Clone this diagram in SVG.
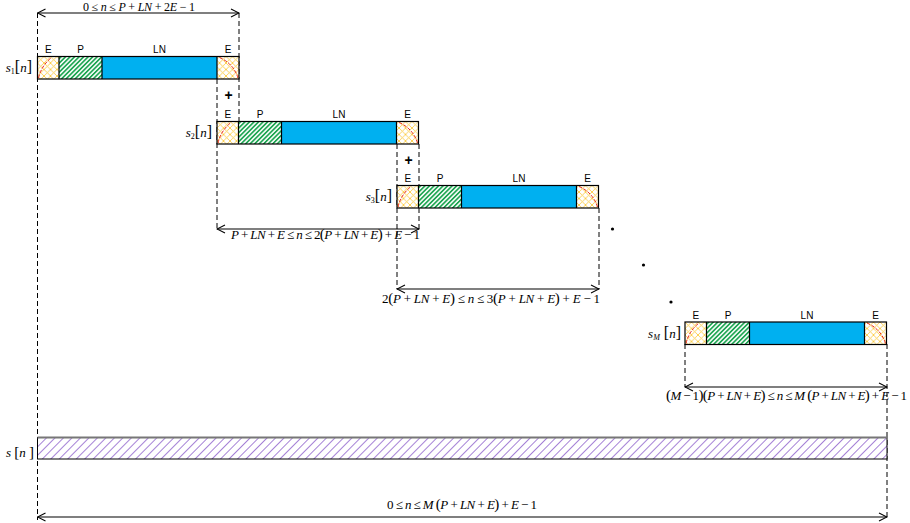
<svg xmlns="http://www.w3.org/2000/svg" width="910" height="523" viewBox="0 0 910 523">
<style>
.math{font-family:"Liberation Serif","Times New Roman",serif;font-size:13px;fill:#000}
.i{font-style:italic}
.pr{font-size:15px}
.lab{font-family:"Liberation Sans",Arial,sans-serif;font-size:10px;fill:#000;text-anchor:middle}
.dash{stroke:#000;stroke-width:1;stroke-dasharray:5,3;fill:none}
.arr{stroke:#000;stroke-width:1.1;fill:none;marker-start:url(#ah);marker-end:url(#ah)}
.box{stroke:#000;stroke-width:1.2}
.red{stroke:#e8251b;stroke-width:1;stroke-dasharray:3.5,1.5;fill:none}
.plus{font-family:"Liberation Sans",Arial,sans-serif;font-size:14px;font-weight:bold;text-anchor:middle}
</style>
<defs>
<pattern id="eh" patternUnits="userSpaceOnUse" width="6.5" height="6.5">
<rect width="6.5" height="6.5" fill="#fff"/>
<path d="M0,0 L6.5,6.5 M6.5,0 L0,6.5" stroke="#fcc93a" stroke-width="0.85"/>
</pattern>
<pattern id="ph" patternUnits="userSpaceOnUse" width="3.2" height="3.2" patternTransform="rotate(45)">
<rect width="3.2" height="3.2" fill="#fff"/>
<rect width="1.7" height="3.2" fill="#1fa653"/>
</pattern>
<pattern id="sh" patternUnits="userSpaceOnUse" width="6" height="6" patternTransform="rotate(45)">
<rect width="6" height="6" fill="#fff"/>
<rect width="0.8" height="6" fill="#8f63cc"/>
</pattern>
<marker id="ah" markerWidth="10" markerHeight="10" refX="9" refY="5" orient="auto-start-reverse" markerUnits="userSpaceOnUse">
<path d="M1,1 L9,5 L1,9" fill="none" stroke="#000" stroke-width="1.1"/>
</marker>
<g id="bar">
<rect x="0" y="0" width="21.5" height="22.5" fill="url(#eh)"/>
<rect x="21.5" y="0" width="43" height="22.5" fill="url(#ph)"/>
<rect x="64.5" y="0" width="115" height="22.5" fill="#00b0f0"/>
<rect x="179.5" y="0" width="22" height="22.5" fill="url(#eh)"/>
<path class="red" d="M1,21.5 Q4,9 14,1"/>
<path class="red" d="M182,1 Q196,7 200.5,21.5"/>
<rect class="box" x="0" y="0" width="201.5" height="22.5" fill="none"/>
<path class="box" d="M21.5,0 V22.5 M64.5,0 V22.5 M179.5,0 V22.5"/>
<text class="lab" x="10.75" y="-3.5">E</text>
<text class="lab" x="43" y="-3.5">P</text>
<text class="lab" x="122" y="-3.5">LN</text>
<text class="lab" x="190.5" y="-3.5">E</text>
</g>
</defs>

<g id="connectors">
<path class="dash" d="M37.5,13 V520"/>
<path class="dash" d="M239,13 V122"/>
<path class="dash" d="M217,79 V229"/>
<path class="dash" d="M397,144 V289"/>
<path class="dash" d="M419,144 V229"/>
<path class="dash" d="M599,208 V289"/>
<path class="dash" d="M685,344 V387"/>
<path class="dash" d="M887,344 V520"/>
<line class="arr" x1="37.5" y1="13" x2="239" y2="13"/>
<line class="arr" x1="217" y1="229" x2="419" y2="229"/>
<line class="arr" x1="397" y1="289" x2="599" y2="289"/>
<line class="arr" x1="685" y1="387" x2="887" y2="387"/>
<line class="arr" x1="37.5" y1="517" x2="887" y2="517"/>
</g>

<g id="range1">
<text class="math" font-size="12" x="83" y="10.5" textLength="112" lengthAdjust="spacing" style="font-size:12px">0 ≤ <tspan class="i">n</tspan> ≤ <tspan class="i">P</tspan> + <tspan class="i">LN</tspan> + 2<tspan class="i">E</tspan> − 1</text>
</g>
<g id="range2">
<text class="math" x="231" y="239" textLength="189" lengthAdjust="spacing"><tspan class="i">P</tspan> + <tspan class="i">LN</tspan> + <tspan class="i">E</tspan> ≤ <tspan class="i">n</tspan> ≤ 2<tspan class="pr">(</tspan><tspan class="i">P</tspan> + <tspan class="i">LN</tspan> + <tspan class="i">E</tspan><tspan class="pr">)</tspan> + <tspan class="i">E</tspan> − 1</text>
</g>
<g id="range3">
<text class="math" x="382" y="303" textLength="218" lengthAdjust="spacing">2<tspan class="pr">(</tspan><tspan class="i">P</tspan> + <tspan class="i">LN</tspan> + <tspan class="i">E</tspan><tspan class="pr">)</tspan> ≤ <tspan class="i">n</tspan> ≤ 3<tspan class="pr">(</tspan><tspan class="i">P</tspan> + <tspan class="i">LN</tspan> + <tspan class="i">E</tspan><tspan class="pr">)</tspan> + <tspan class="i">E</tspan> − 1</text>
</g>
<g id="rangeM">
<text class="math" x="666" y="400" textLength="241" lengthAdjust="spacing"><tspan class="pr">(</tspan><tspan class="i">M</tspan> − 1<tspan class="pr">)(</tspan><tspan class="i">P</tspan> + <tspan class="i">LN</tspan> + <tspan class="i">E</tspan><tspan class="pr">)</tspan> ≤ <tspan class="i">n</tspan> ≤ <tspan class="i">M</tspan> <tspan class="pr">(</tspan><tspan class="i">P</tspan> + <tspan class="i">LN</tspan> + <tspan class="i">E</tspan><tspan class="pr">)</tspan> + <tspan class="i">E</tspan> − 1</text>
</g>
<g id="rangeAll">
<text class="math" x="387" y="509" textLength="150" lengthAdjust="spacing">0 ≤ <tspan class="i">n</tspan> ≤ <tspan class="i">M</tspan> <tspan class="pr">(</tspan><tspan class="i">P</tspan> + <tspan class="i">LN</tspan> + <tspan class="i">E</tspan><tspan class="pr">)</tspan> + <tspan class="i">E</tspan> − 1</text>
</g>

<g id="s1">
<use href="#bar" x="37.5" y="56.5"/>
<text class="math" x="32" y="72" text-anchor="end"><tspan class="i">s</tspan><tspan font-size="8" dy="2">1</tspan><tspan font-size="16" dy="-2">[</tspan><tspan class="i">n</tspan><tspan font-size="16">]</tspan></text>
</g>
<g id="s2">
<use href="#bar" x="217" y="121.5"/>
<text class="math" x="212" y="137" text-anchor="end"><tspan class="i">s</tspan><tspan font-size="8" dy="2">2</tspan><tspan font-size="16" dy="-2">[</tspan><tspan class="i">n</tspan><tspan font-size="16">]</tspan></text>
</g>
<g id="s3">
<use href="#bar" x="397" y="185.5"/>
<text class="math" x="392" y="201" text-anchor="end"><tspan class="i">s</tspan><tspan font-size="8" dy="2">3</tspan><tspan font-size="16" dy="-2">[</tspan><tspan class="i">n</tspan><tspan font-size="16">]</tspan></text>
</g>
<g id="sM">
<use href="#bar" x="685" y="322"/>
<text class="math" x="681" y="338" text-anchor="end"><tspan class="i">s</tspan><tspan font-size="8" class="i" dy="2">M</tspan><tspan font-size="16" dy="-2"> [</tspan><tspan class="i">n</tspan><tspan font-size="16">]</tspan></text>
</g>
<g id="plus1"><text class="plus" x="228.5" y="100">+</text></g>
<g id="plus2"><text class="plus" x="408.5" y="165">+</text></g>
<g id="dots">
<circle cx="612.5" cy="229" r="1.6"/>
<circle cx="643.5" cy="265" r="1.6"/>
<circle cx="671" cy="302" r="1.6"/>
</g>
<g id="s">
<rect x="37.5" y="437.5" width="849.5" height="21.5" fill="url(#sh)" stroke="#000" stroke-width="1"/>
<line x1="37.5" y1="437.5" x2="887" y2="437.5" stroke="#777" stroke-width="2"/>
<text class="math" x="34" y="457" text-anchor="end"><tspan class="i">s</tspan> <tspan font-size="15">[</tspan><tspan class="i">n</tspan> <tspan font-size="15">]</tspan></text>
</g>
</svg>
